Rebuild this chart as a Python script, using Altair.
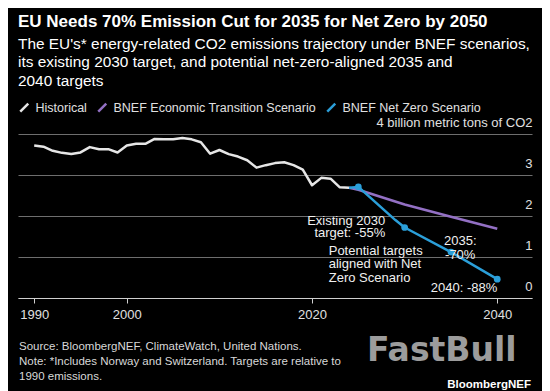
import altair as alt
import pandas as pd

# ---------------- data ----------------
hist_years = list(range(1990, 2025))
hist_vals = [3.72, 3.69, 3.59, 3.54, 3.51, 3.55, 3.68, 3.63, 3.63, 3.55,
             3.72, 3.76, 3.76, 3.88, 3.87, 3.87, 3.90, 3.87, 3.80, 3.52,
             3.61, 3.51, 3.45, 3.36, 3.18, 3.24, 3.29, 3.31, 3.24, 3.13,
             2.75, 2.93, 2.91, 2.70, 2.69]

ets_years = [2024, 2025, 2030, 2035, 2040]
ets_vals = [2.69, 2.64, 2.28, 1.98, 1.69]

nzs_years = [2024, 2025, 2029, 2030, 2035, 2040]
nzs_vals = [2.69, 2.71, 1.90, 1.72, 1.12, 0.46]

marker_years = [2025, 2030, 2035, 2040]
marker_vals = [2.71, 1.72, 1.12, 0.46]

series_names = ["Historical", "BNEF Economic Transition Scenario", "BNEF Net Zero Scenario"]
series_colors = ["#e6e6e6", "#9370c4", "#2b9fd9"]

x_ticks = [1990, 2000, 2020, 2040]
y_ticks = [0, 1, 2, 3, 4]

title_text = "EU Needs 70% Emission Cut for 2035 for Net Zero by 2050"
subtitle_text = ("The EU's* energy-related CO2 emissions trajectory under BNEF scenarios,\n"
                 "its existing 2030 target, and potential net-zero-aligned 2035 and\n"
                 "2040 targets")
footer_text = ("Source: BloombergNEF, ClimateWatch, United Nations.\n"
               "Note: *Includes Norway and Switzerland. Targets are relative to\n"
               "1990 emissions.")

ann_right = pd.DataFrame({
    "year": [2027.9, 2040.0],
    "value": [1.87, 0.25],
    "text": ["Existing 2030\ntarget: -55%", "2040: -88%"],
})
ann_left = pd.DataFrame({"year": [2021.8], "value": [1.145],
                         "text": ["Potential targets\naligned with Net\nZero Scenario"]})
ann_center = pd.DataFrame({"year": [2036.0], "value": [1.40], "text": ["2035:\n-70%"]})

# ---------------- build ----------------
FONT = "Liberation Sans"
W, H = 514, 164

lines_df = pd.concat([
    pd.DataFrame({"year": hist_years, "value": hist_vals, "series": series_names[0]}),
    pd.DataFrame({"year": ets_years, "value": ets_vals, "series": series_names[1]}),
    pd.DataFrame({"year": nzs_years, "value": nzs_vals, "series": series_names[2]}),
], ignore_index=True)
markers_df = pd.DataFrame({"year": marker_years, "value": marker_vals})

xscale = alt.Scale(domain=[1988.25, 2043.75], nice=False, zero=False)
yscale = alt.Scale(domain=[0, 4], nice=False)

x_axis = alt.Axis(values=x_ticks, format="d", title=None, grid=False,
                  domainColor="#d0d0d0", domainWidth=1.2, tickColor="#d0d0d0",
                  tickSize=5, labelColor="#e0e0e0", labelFontSize=13, labelFont=FONT,
                  labelPadding=5, labelFlush=False, labelOverlap=False)
y_axis = alt.Axis(values=y_ticks, orient="right", title=None, grid=True,
                  gridColor="#6e6e6e", gridWidth=1, domain=False, ticks=False,
                  labelAlign="right", labelBaseline="bottom", labelPadding=0,
                  labelOffset=-5, labelColor="#e0e0e0", labelFontSize=13, labelFont=FONT,
                  labelFlush=False, labelOverlap=False, labelLimit=400,
                  labelExpr="datum.value == 4 ? '4 billion metric tons of CO2' : datum.label")

lines = alt.Chart(lines_df).mark_line(strokeWidth=2.5, strokeJoin="round").encode(
    x=alt.X("year:Q", scale=xscale, axis=x_axis),
    y=alt.Y("value:Q", scale=yscale, axis=y_axis),
    color=alt.Color("series:N",
                    scale=alt.Scale(domain=series_names, range=series_colors),
                    sort=series_names,
                    legend=alt.Legend(orient="none", legendX=0, legendY=-33,
                                      direction="horizontal", title=None,
                                      symbolType="M-1,1L1,-1", symbolStrokeWidth=2.5,
                                      symbolSize=64, labelFontSize=12.5, labelFont=FONT,
                                      labelColor="#e0e0e0", columnPadding=6,
                                      labelOffset=5, labelLimit=400)),
)

points = alt.Chart(markers_df).mark_circle(size=45, color="#2b9fd9", opacity=1).encode(
    x=alt.X("year:Q", scale=xscale),
    y=alt.Y("value:Q", scale=yscale),
)

def ann(df, align, lh=13):
    return alt.Chart(df).mark_text(align=align, baseline="middle", lineBreak="\n",
                                   lineHeight=lh, fontSize=13, font=FONT,
                                   color="#f0f0f0").encode(
        x=alt.X("year:Q", scale=xscale), y=alt.Y("value:Q", scale=yscale), text="text:N")

one = pd.DataFrame({"k": [0]})

def label(text, x, y, size, color, weight="normal", align="left", baseline="middle",
          lh=None, font=FONT):
    kw = dict(text=text, align=align, baseline=baseline, fontSize=size, font=font,
              color=color, fontWeight=weight, lineBreak="\n")
    if lh:
        kw["lineHeight"] = lh
    return alt.Chart(one).mark_text(**kw).encode(x=alt.value(x), y=alt.value(y))

# page -> plot coordinates: x - 18, y - 134
title = label(title_text, 0, -112, 17, "#ffffff", weight="bold")
subtitle = label(subtitle_text, 0, -90.3, 15.4, "#ffffff", lh=18.5)
footer = label(footer_text, 1, 212.5, 11.5, "#d8d8d8", lh=15)
brand = label("FastBull", 349, 217, 33, "#9c9c9c", weight="bold", font="DejaVu Sans")
bnef = label("BloombergNEF", 513, 251, 11.5, "#ffffff", weight="bold", align="right")

chart = alt.layer(
    lines, points,
    ann(ann_right, "right", 12), ann(ann_left, "left", 13.3), ann(ann_center, "center", 14),
    title, subtitle, footer, brand, bnef,
).properties(
    width=W, height=H,
    autosize=alt.AutoSizeParams(type="none"),
    padding={"left": 10, "top": 126, "right": 10, "bottom": 93},
    background="#000000",
).configure_view(stroke=None)

chart.save("out.html", embed_options={"renderer": "svg", "actions": False})
